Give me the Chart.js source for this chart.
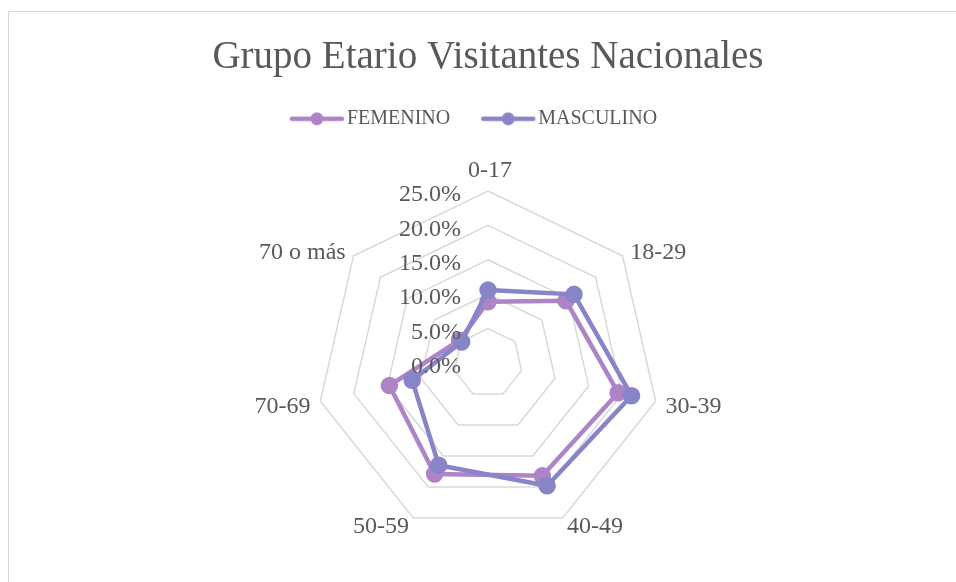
<!DOCTYPE html>
<html>
<head>
<meta charset="utf-8">
<script src="https://cdn.jsdelivr.net/npm/chart.js@4"></script>
<style>
  html, body { margin: 0; padding: 0; background: #fff; }
  #wrap { position: relative; width: 956px; height: 582px; }
  #frame { position: absolute; left: 8px; top: 11px; width: 960px; height: 600px;
           border-left: 1px solid #d9d9d9; border-top: 1px solid #d9d9d9; pointer-events: none; }
</style>
</head>
<body>
<div id="wrap">
  <canvas id="myChart" width="956" height="582"></canvas>
  <div id="frame"></div>
</div>
<script>
// datos
var categorias = ["0-17", "18-29", "30-39", "40-49", "50-59", "70-69", "70 o más"];
var femenino = [8.9, 14.5, 19.4, 18.2, 17.9, 14.7, 5.3];
var masculino = [10.6, 16.0, 21.4, 19.8, 16.5, 11.3, 4.9];
var ticksEje = [0, 5, 10, 15, 20, 25];

var fuente = "'Liberation Serif', serif";
var gris = "#595959";

// icono de leyenda: linea con punto
function iconoLinea(color){
    var c = document.createElement("canvas");
    c.width = 56; c.height = 16;
    var g = c.getContext("2d");
    g.strokeStyle = color; g.lineWidth = 4.5; g.lineCap = "round";
    g.beginPath(); g.moveTo(3, 8); g.lineTo(53, 8); g.stroke();
    g.fillStyle = color;
    g.beginPath(); g.arc(28, 8, 6.5, 0, Math.PI*2); g.fill();
    return c;
}

// espacio extra bajo la leyenda, y leyenda un poco arriba/izquierda
var ajusteLeyenda = {
    id: "ajusteLeyenda",
    beforeInit: function(chart){
        var fit = chart.legend.fit;
        chart.legend.fit = function(){
            fit.call(this);
            this.height += 40.7;
        };
    },
    afterLayout: function(chart){
        var l = chart.legend;
        l.left -= 11; l.right -= 11;
        l.top -= 11; l.bottom -= 11;
    }
};

// etiquetas del eje y de las categorias, colocadas como en Excel
var etiquetas = {
    id: "etiquetas",
    afterDraw: function(chart){
        var s = chart.scales.r, ctx = chart.ctx;
        ctx.save();
        ctx.font = "24px " + fuente;
        ctx.fillStyle = gris;
        ctx.textAlign = "right";
        ctx.textBaseline = "middle";
        ticksEje.forEach(function(v){
            var d = s.getDistanceFromCenterForValue(v);
            ctx.fillText(v.toFixed(1) + "%", s.xCenter - 27, s.yCenter - d + 4);
        });
        var r = s.drawingArea + 10;
        categorias.forEach(function(cat, i){
            var p = s.getPointPosition(i, r);
            var dx = p.x - s.xCenter;
            if (Math.abs(dx) < 1) {
                ctx.textAlign = "center";
                ctx.textBaseline = "bottom";
                ctx.fillText(cat, p.x + 2, p.y + 2);
            } else {
                ctx.textAlign = dx > 0 ? "left" : "right";
                ctx.textBaseline = "middle";
                ctx.fillText(cat, p.x, p.y + (p.y < s.yCenter + 100 ? 3 : 0));
            }
        });
        ctx.restore();
    }
};

var ctx = document.getElementById("myChart").getContext("2d");
var chart = new Chart(ctx, {
    type: "radar",
    data: {
        labels: categorias,
        datasets: [{
            label: "FEMENINO",
            data: femenino,
            borderColor: "#AD84C6",
            backgroundColor: "#AD84C6",
            pointBackgroundColor: "#AD84C6",
            pointBorderColor: "#AD84C6",
            borderWidth: 4.5,
            pointRadius: 6.5,
            fill: false,
            order: 1
        }, {
            label: "MASCULINO",
            data: masculino,
            borderColor: "#8784C7",
            backgroundColor: "#8784C7",
            pointBackgroundColor: "#8784C7",
            pointBorderColor: "#8784C7",
            borderWidth: 4.5,
            pointRadius: 6.5,
            fill: false,
            order: 0
        }]
    },
    options: {
        responsive: false,
        animation: false,
        layout: { padding: { top: 0, bottom: 46.5, left: 40, right: 20 } },
        plugins: {
            title: {
                display: true,
                text: "Grupo Etario Visitantes Nacionales",
                color: gris,
                font: { family: fuente, size: 39, weight: "normal" },
                padding: { top: 34, bottom: 1 }
            },
            legend: {
                labels: {
                    usePointStyle: true,
                    pointStyleWidth: 40,
                    color: gris,
                    font: { family: fuente, size: 20 },
                    padding: 38,
                    sort: function(a, b){ return a.datasetIndex - b.datasetIndex; },
                    generateLabels: function(c){
                        var items = Chart.defaults.plugins.legend.labels.generateLabels(c);
                        items.forEach(function(it){
                            it.pointStyle = iconoLinea(c.data.datasets[it.datasetIndex].borderColor);
                        });
                        return items;
                    }
                }
            },
            tooltip: { enabled: false }
        },
        scales: {
            r: {
                min: 0,
                max: 25,
                ticks: { stepSize: 5, display: false },
                grid: { color: "#D9D9D9", lineWidth: 1.5 },
                angleLines: { display: false },
                pointLabels: { display: false }
            }
        }
    },
    plugins: [ajusteLeyenda, etiquetas]
});
</script>
</body>
</html>
